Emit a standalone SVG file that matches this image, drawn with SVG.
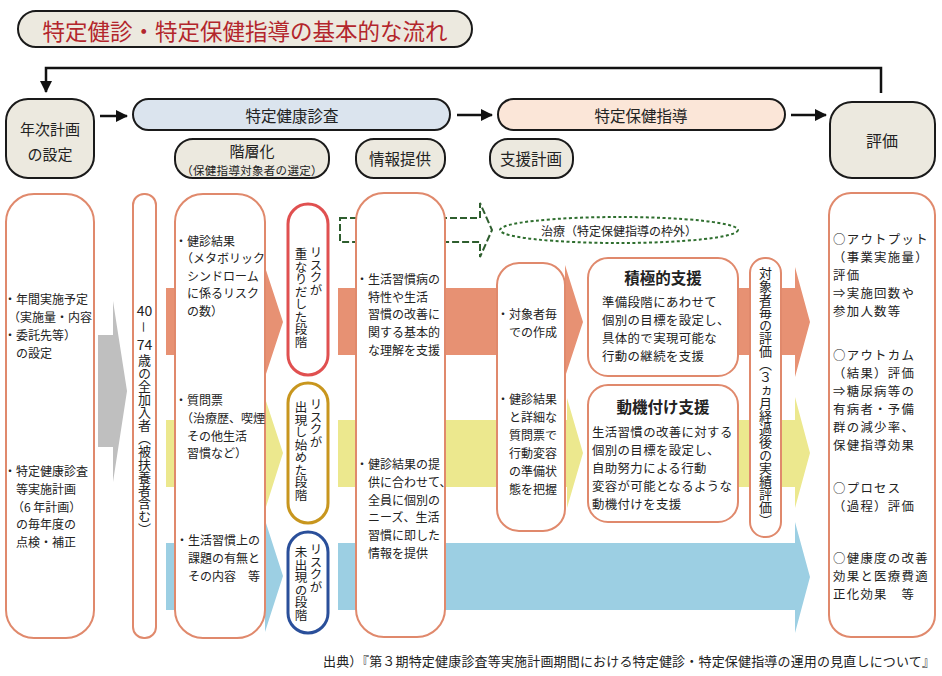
<svg xmlns="http://www.w3.org/2000/svg" width="942" height="676" viewBox="0 0 942 676">
<style>
text{font-family:"Noto Sans CJK JP","Noto Sans",sans-serif;fill:#222;dominant-baseline:central}
.hb{fill:#ece9df;stroke:#1a1a1a;stroke-width:2}
.wb{fill:#fff;stroke:#e0896c;stroke-width:2}
.v{writing-mode:vertical-rl}
.s12{font-size:12px}
.s13{font-size:13px}
.r{font-size:12.5px}
.p{font-size:12.4px;letter-spacing:0.4px}
.e{font-size:12.4px;letter-spacing:1.3px}
.hd{font-size:15.5px;text-anchor:middle}
.mid{text-anchor:middle}
.ln{fill:none;stroke:#111;stroke-width:2.5}
.sal{fill:#e79173}
.yel{fill:#ece88e}
.blu{fill:#9ccfe3}
</style>
<defs>
<marker id="ah" markerUnits="userSpaceOnUse" markerWidth="12" markerHeight="12" refX="11" refY="6" orient="auto">
<path d="M0,0 L12,6 L0,12 Z" fill="#111"/>
</marker>
</defs>

<g id="title">
<rect x="18" y="11" width="454" height="36" rx="18" class="hb"/>
<text x="245" y="30" class="mid" style="font-size:22.5px;fill:#b3262c">特定健診・特定保健指導の基本的な流れ</text>
</g>

<g id="connectors">
<path d="M881,93 V68 H46 V92" class="ln" marker-end="url(#ah)"/>
<path d="M100,116 H127" class="ln" marker-end="url(#ah)"/>
<path d="M457,115 H492" class="ln" marker-end="url(#ah)"/>
<path d="M791,115 H826" class="ln" marker-end="url(#ah)"/>
<path d="M98,335 H113 V301 L127,391 L113,482 V447 H98 Z" fill="#bfbfbf"/>
<path d="M166,288 H265 V267 L283,322 L265,377 V355 H166 Z" class="sal"/>
<path d="M338,288 H565 V265 L583,322 L565,377 V355 H338 Z" class="sal"/>
<path d="M588,288 H795 V267 L810,322 L795,377 V355 H588 Z" class="sal"/>
<path d="M166,420 H265 V398 L283,453 L265,510 V487 H166 Z" class="yel"/>
<path d="M338,420 H567 V398 L583,453 L567,508 V487 H338 Z" class="yel"/>
<path d="M588,420 H795 V397 L810,453 L795,508 V487 H588 Z" class="yel"/>
<path d="M166,543 H265 V520 L283,576 L265,632 V610 H166 Z" class="blu"/>
<path d="M338,543 H795 V522 L810,577 L795,633 V610 H338 Z" class="blu"/>
<path d="M340,218 H480 V203 L492,230 L480,257 V242 H340 Z" fill="none" stroke="#2e5e2e" stroke-width="2" stroke-dasharray="7,3"/>
</g>

<g id="annual-plan">
<rect x="6" y="99" width="88" height="79" rx="22" class="hb"/>
<text x="50" y="128" class="hd" style="font-size:15px">年次計画</text>
<text x="50" y="153" class="hd" style="font-size:15px">の設定</text>
</g>
<g id="health-checkup">
<rect x="133" y="99" width="317" height="31" rx="15.5" class="hb" style="fill:#dbe4ee"/>
<text x="292" y="115" class="hd">特定健康診査</text>
</g>
<g id="health-guidance">
<rect x="498" y="99" width="287" height="31" rx="15.5" class="hb" style="fill:#fbe6d8"/>
<text x="641" y="115" class="hd">特定保健指導</text>
</g>
<g id="evaluation">
<rect x="830" y="102" width="105" height="76" rx="22" class="hb"/>
<text x="882" y="140" class="hd" style="font-size:16px">評価</text>
</g>
<g id="stratification">
<rect x="175" y="139" width="154" height="39" rx="18" class="hb"/>
<text x="252" y="150.5" class="hd" style="font-size:15px">階層化</text>
<text x="252" y="169.5" class="mid" style="font-size:11.5px;letter-spacing:0.3px">（保健指導対象者の選定）</text>
</g>
<g id="info-provision">
<rect x="356" y="139" width="89" height="39" rx="18" class="hb"/>
<text x="400" y="158" class="hd">情報提供</text>
</g>
<g id="support-plan">
<rect x="490" y="139" width="83" height="39" rx="18" class="hb"/>
<text x="531" y="158" class="hd">支援計画</text>
</g>

<g id="treatment">
<ellipse cx="619" cy="230" rx="119" ry="13" fill="#fff" stroke="#2e6e2e" stroke-width="2" stroke-dasharray="3,2.5"/>
<text x="619" y="230" class="mid s12">治療（特定保健指導の枠外）</text>
</g>

<g id="annual-detail">
<rect x="6" y="194" width="88" height="444" rx="28" class="wb"/>
<text class="s12" x="4" y="298">・年間実施予定</text>
<text class="s12" x="8" y="316">（実施量・内容</text>
<text class="s12" x="4" y="334">・委託先等）</text>
<text class="s12" x="16" y="352">の設定</text>
<text class="s12" x="4" y="470">・特定健康診査</text>
<text class="s12" x="16" y="488">等実施計画</text>
<text class="s12" x="12" y="506">（6 年計画）</text>
<text class="s12" x="16" y="523">の毎年度の</text>
<text class="s12" x="16" y="541">点検・補正</text>
</g>

<g id="all-members">
<rect x="133" y="194" width="23" height="444" rx="11" class="wb"/>
<text x="144.5" y="310" class="mid" style="font-size:14px">40</text>
<text x="144.5" y="320.5" class="v s13">－</text>
<text x="144.5" y="344" class="mid" style="font-size:14px">74</text>
<text x="144.5" y="354" class="v s13">歳の全加入者（被扶養者含む）</text>
</g>

<g id="strat-detail">
<rect x="175" y="194" width="90" height="444" rx="28" class="wb"/>
<text class="s12" x="175" y="240">・健診結果</text>
<text class="s12" x="181" y="257">（メタボリック</text>
<text class="s12" x="187" y="275">シンドローム</text>
<text class="s12" x="187" y="292">に係るリスク</text>
<text class="s12" x="187" y="310">の数）</text>
<text class="s12" x="175" y="399">・質問票</text>
<text class="s12" x="181" y="417">（治療歴、喫煙</text>
<text class="s12" x="187" y="435">その他生活</text>
<text class="s12" x="187" y="452">習慣など）</text>
<text class="s12" x="176" y="539">・生活習慣上の</text>
<text class="s12" x="188" y="557">課題の有無と</text>
<text class="s12" x="188" y="575">その内容　等</text>
</g>

<g id="risk-high">
<rect x="288" y="204" width="40" height="171" rx="20" fill="#fff" stroke="#e05050" stroke-width="3"/>
<text x="316" y="246" class="v r">リスクが</text>
<text x="301" y="248" class="v r">重なりだした段階</text>
</g>
<g id="risk-mid">
<rect x="288" y="383" width="40" height="140" rx="20" fill="#fff" stroke="#c8961e" stroke-width="3"/>
<text x="316" y="398" class="v r">リスクが</text>
<text x="301" y="401" class="v r">出現し始めた段階</text>
</g>
<g id="risk-none">
<rect x="288" y="532" width="40" height="101" rx="20" fill="#fff" stroke="#2a4f9a" stroke-width="3"/>
<text x="316" y="543" class="v r">リスクが</text>
<text x="301" y="546" class="v r">未出現の段階</text>
</g>

<g id="info-detail">
<rect x="356" y="193" width="89" height="444" rx="28" class="wb"/>
<text class="s12" x="356" y="278">・生活習慣病の</text>
<text class="s12" x="368" y="296">特性や生活</text>
<text class="s12" x="368" y="313">習慣の改善に</text>
<text class="s12" x="368" y="331">関する基本的</text>
<text class="s12" x="368" y="349">な理解を支援</text>
<text class="s12" x="356" y="463">・健診結果の提</text>
<text class="s12" x="368" y="481">供に合わせて、</text>
<text class="s12" x="368" y="499">全員に個別の</text>
<text class="s12" x="368" y="516">ニーズ、生活</text>
<text class="s12" x="368" y="534">習慣に即した</text>
<text class="s12" x="368" y="552">情報を提供</text>
</g>

<g id="plan-detail">
<rect x="497" y="263" width="68" height="268" rx="22" class="wb"/>
<text class="s12" x="497" y="313">・対象者毎</text>
<text class="s12" x="509" y="331">での作成</text>
<text class="s12" x="497" y="398">・健診結果</text>
<text class="s12" x="509" y="416">と詳細な</text>
<text class="s12" x="509" y="434">質問票で</text>
<text class="s12" x="509" y="452">行動変容</text>
<text class="s12" x="509" y="470">の準備状</text>
<text class="s12" x="509" y="488">態を把握</text>
</g>

<g id="active-support">
<rect x="588" y="258" width="150" height="118" rx="20" class="wb"/>
<text x="663" y="277" class="mid" style="font-size:15.5px;font-weight:bold">積極的支援</text>
<text class="p" x="602" y="302">準備段階にあわせて</text>
<text class="p" x="602" y="320">個別の目標を設定し、</text>
<text class="p" x="602" y="338">具体的で実現可能な</text>
<text class="p" x="602" y="356">行動の継続を支援</text>
</g>

<g id="motivation-support">
<rect x="588" y="385" width="150" height="137" rx="20" class="wb"/>
<text x="663" y="406" class="mid" style="font-size:15.5px;font-weight:bold">動機付け支援</text>
<text class="p" x="592" y="432">生活習慣の改善に対する</text>
<text class="p" x="592" y="450">個別の目標を設定し、</text>
<text class="p" x="592" y="468">自助努力による行動</text>
<text class="p" x="592" y="486">変容が可能となるような</text>
<text class="p" x="592" y="504">動機付けを支援</text>
</g>

<g id="individual-eval">
<rect x="750" y="258" width="31" height="279" rx="15" class="wb"/>
<text x="765.5" y="267" class="v s13">対象者毎の評価（３ヵ月経過後の実績評価）</text>
</g>

<g id="eval-detail">
<rect x="829" y="193" width="106" height="444" rx="22" class="wb"/>
<text class="e" x="833" y="239">○アウトプット</text>
<text class="e" x="833" y="257">（事業実施量）</text>
<text class="e" x="833" y="275">評価</text>
<text class="e" x="833" y="293">⇒実施回数や</text>
<text class="e" x="833" y="311">参加人数等</text>
<text class="e" x="833" y="355">○アウトカム</text>
<text class="e" x="833" y="373">（結果）評価</text>
<text class="e" x="833" y="391">⇒糖尿病等の</text>
<text class="e" x="833" y="409">有病者・予備</text>
<text class="e" x="833" y="427">群の減少率、</text>
<text class="e" x="833" y="445">保健指導効果</text>
<text class="e" x="833" y="488">○プロセス</text>
<text class="e" x="833" y="506">（過程）評価</text>
<text class="e" x="833" y="558">○健康度の改善</text>
<text class="e" x="833" y="576">効果と医療費適</text>
<text class="e" x="833" y="594">正化効果　等</text>
</g>

<text x="323" y="660" class="s13" textLength="612" lengthAdjust="spacing">出典）『第３期特定健康診査等実施計画期間における特定健診・特定保健指導の運用の見直しについて』</text>
</svg>
